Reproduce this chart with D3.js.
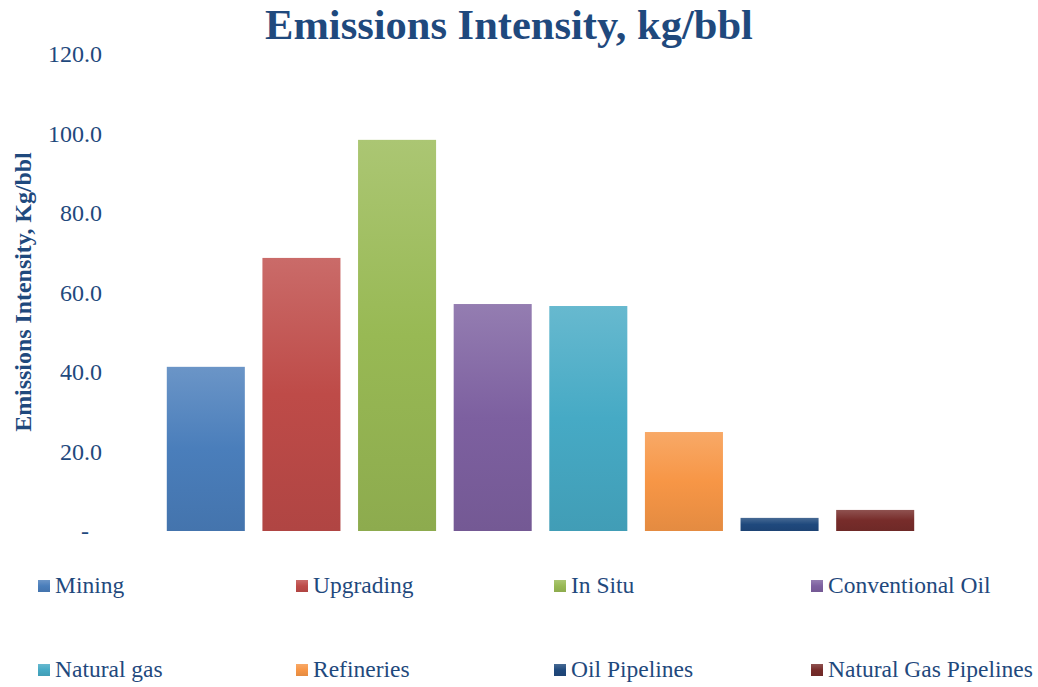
<!DOCTYPE html>
<html>
<head>
<meta charset="utf-8">
<script src="https://cdn.jsdelivr.net/npm/d3@7"></script>
<style>
  html, body { margin: 0; padding: 0; background: #fff; }
  svg { display: block; font-family: "Liberation Serif", "Times New Roman", serif; }
</style>
</head>
<body>
<svg id="chart" width="1038" height="687"></svg>
<script>
// Emissions intensity by sector, kg of CO2e per barrel
const categories = ["Mining", "Upgrading", "In Situ", "Conventional Oil",
                    "Natural gas", "Refineries", "Oil Pipelines", "Natural Gas Pipelines"];
const values = [41.3, 68.7, 98.4, 57.1, 56.6, 24.9, 3.3, 5.3];
const seriesColors = ["#4A7EBB", "#BE4B48", "#98B954", "#7D60A0",
                      "#46AAC5", "#F79646", "#1F497D", "#772C2A"];
const yTicks = [0, 20, 40, 60, 80, 100, 120];

const textColor = "#1F497D";
const svg = d3.select("#chart");

const x = d3.scaleBand()
  .domain(categories)
  .range([158, 923])
  .paddingInner(0.184)
  .paddingOuter(0.092);

const y = d3.scaleLinear().domain([0, 120]).range([531, 54]);

// Vertical gradient per bar: lighter at the top, deeper at the base
const defs = svg.append("defs");
categories.forEach((c, i) => {
  const base = d3.color(seriesColors[i]);
  const g = defs.append("linearGradient")
    .attr("id", "grad" + i)
    .attr("x1", 0).attr("y1", 0).attr("x2", 0).attr("y2", 1);
  g.append("stop").attr("offset", "0%").attr("stop-color", d3.interpolateRgb(base, "#fff")(0.18));
  g.append("stop").attr("offset", "50%").attr("stop-color", base.formatHex());
  g.append("stop").attr("offset", "100%").attr("stop-color", base.darker(0.22).formatHex());
});

// Title
svg.append("text")
  .attr("x", 509).attr("y", 39)
  .attr("text-anchor", "middle")
  .attr("font-weight", "bold")
  .attr("font-size", 42.5)
  .attr("fill", textColor)
  .text("Emissions Intensity, kg/bbl");

// Y axis title
svg.append("text")
  .attr("transform", "translate(31,292) rotate(-90)")
  .attr("text-anchor", "middle")
  .attr("font-weight", "bold")
  .attr("font-size", 23.9)
  .attr("fill", textColor)
  .text("Emissions Intensity, Kg/bbl");

// Y axis (labels only)
const yAxis = d3.axisLeft(y)
  .tickValues(yTicks)
  .tickSize(0)
  .tickPadding(0)
  .tickFormat(d => d === 0 ? "-" : d3.format(".1f")(d));

const gy = svg.append("g")
  .attr("transform", "translate(102,0)")
  .call(yAxis);
gy.select(".domain").remove();
gy.selectAll(".tick text")
  .attr("font-family", "Liberation Serif, Times New Roman, serif")
  .attr("font-size", 24)
  .attr("fill", textColor)
  .attr("x", d => d === 0 ? -13 : 0);

// Bars
svg.append("g")
  .selectAll("rect")
  .data(categories)
  .join("rect")
  .attr("x", d => x(d))
  .attr("width", x.bandwidth())
  .attr("y", (d, i) => y(values[i]))
  .attr("height", (d, i) => y(0) - y(values[i]))
  .attr("fill", (d, i) => `url(#grad${i})`);

// Legend: two rows of four
const legendCols = [38, 296, 554, 811];
const legendRows = [593, 677];
const legend = svg.append("g")
  .selectAll("g")
  .data(categories)
  .join("g")
  .attr("transform", (d, i) => `translate(${legendCols[i % 4]},${legendRows[Math.floor(i / 4)]})`);

legend.append("rect")
  .attr("x", 0).attr("y", -13)
  .attr("width", 12).attr("height", 12)
  .attr("fill", (d, i) => `url(#grad${i})`);

legend.append("text")
  .attr("x", 17).attr("y", 0)
  .attr("font-size", 23.5)
  .attr("fill", textColor)
  .text(d => d);
</script>
</body>
</html>
